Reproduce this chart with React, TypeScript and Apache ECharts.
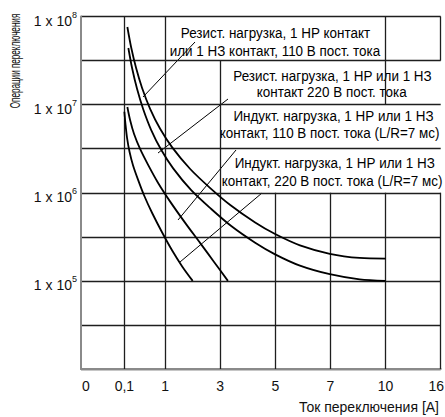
import React, { useEffect, useRef } from "react";
import * as echarts from "echarts";

// Axis definition (current in A, pseudo-scale with evenly spaced columns)
const tickAmps = [0, 0.1, 1, 3, 5, 7, 10, 16];
const tickLabels = ["0", "0,1", "1", "3", "5", "7", "10", "16"];
const tickSlots = [0, 0.787, 1.527, 2.527, 3.527, 4.527, 5.527, 6.527];
const decadeExponents = [5, 6, 7, 8];
const yMinExp = 4;
const yMaxExp = 8;

// Curves: [current A, operations]
const resist110V: [number, number][] = [
  [0.166, 7.6e7], [0.248, 4.51e7], [0.359, 2.6e7], [0.491, 1.545e7], [0.668, 8.97e6],
  [0.889, 5.32e6], [1.255, 3.27e6], [1.909, 1.86e6], [2.636, 1.13e6], [3.362, 7.26e5],
  [4.266, 4.6e5], [4.99, 3.4e5], [5.892, 2.53e5], [6.975, 2.03e5], [8.59, 1.82e5], [10, 1.79e5],
];
const resist220V: [number, number][] = [
  [0.188, 4.39e7], [0.27, 2.6e7], [0.381, 1.5e7], [0.514, 8.92e6], [0.69, 5.18e6],
  [0.912, 3.07e6], [1.291, 1.89e6], [1.945, 1.07e6], [2.673, 6.54e5], [3.398, 4.19e5],
  [4.266, 2.71e5], [4.99, 2.0e5], [5.892, 1.49e5], [6.975, 1.19e5], [8.59, 1.04e5], [10, 1.0e5],
];
const induct110V: [number, number][] = [
  [0.166, 9.4e6], [0.226, 6.69e6], [0.314, 4.64e6], [0.447, 3.14e6], [0.624, 2.07e6],
  [0.845, 1.29e6], [1.182, 7.93e5], [1.727, 4.55e5], [2.273, 2.68e5], [2.782, 1.63e5],
  [3.278, 1.0e5],
];
const induct220V: [number, number][] = [
  [0.1, 8.31e6], [0.1265, 5.87e6], [0.16, 4.18e6], [0.215, 2.9e6], [0.292, 2.04e6],
  [0.403, 1.4e6], [0.536, 9.31e5], [0.713, 5.89e5], [0.934, 3.54e5], [1.255, 2.21e5],
  [1.618, 1.46e5], [2.0, 1.0e5],
];

// Which vertical grid lines are drawn in which exponent ranges
const verticalGridSpans: [number, [number, number][]][] = [
  [0.1, [[4, 8]]],
  [1, [[4, 8]]],
  [3, [[4, 7.5]]],
  [5, [[4, 6]]],
  [7, [[4, 6]]],
  [10, [[4, 6], [7, 8]]],
  [16, [[4, 6], [7.5, 8]]],
];

const FONT = "'Liberation Sans', Arial, sans-serif";

function ampsToSlot(a: number): number {
  for (let i = 0; i < tickAmps.length - 1; i++) {
    if (a <= tickAmps[i + 1]) {
      const t = (a - tickAmps[i]) / (tickAmps[i + 1] - tickAmps[i]);
      return tickSlots[i] + t * (tickSlots[i + 1] - tickSlots[i]);
    }
  }
  return tickSlots[tickSlots.length - 1];
}

const toSeries = (pts: [number, number][]) => pts.map(([a, o]) => [ampsToSlot(a), Math.log10(o)]);

export default function App() {
  const ref = useRef<HTMLDivElement>(null);
  useEffect(() => {
    if (!ref.current) return;
    const chart = echarts.init(ref.current, null, { renderer: "svg" });
    const gridColor = "#1e1e1e";
    const segs: any[] = [];
    verticalGridSpans.forEach(([amp, spans]) => {
      spans.forEach(([y1, y2]) => {
        segs.push([{ coord: [ampsToSlot(amp), y1] }, { coord: [ampsToSlot(amp), y2] }]);
      });
    });
    const curveStyle = { color: "#000", width: 1.8 };
    const mkSeries = (name: string, pts: [number, number][], extra: any = {}) => ({
      name,
      type: "line",
      data: toSeries(pts),
      smooth: 0.3,
      showSymbol: false,
      symbol: "none",
      lineStyle: curveStyle,
      silent: true,
      z: 5,
      ...extra,
    });
    const ann = (text: string, x: number, y: number) => ({
      type: "text",
      x,
      y,
      scaleX: 0.96,
      silent: true,
      style: {
        text,
        fill: "#000",
        fontSize: 14,
        fontFamily: FONT,
        textAlign: "center",
        textVerticalAlign: "middle",
      },
    });
    const leader = (x1: number, y1: number, x2: number, y2: number) => ({
      type: "line",
      silent: true,
      shape: { x1, y1, x2, y2 },
      style: { stroke: "#000", lineWidth: 1 },
    });
    const lastIdx = tickLabels.length - 1;
    chart.setOption({
      animation: false,
      grid: {
        left: 81,
        top: 16.5,
        right: 4.3,
        bottom: 48,
        containLabel: false,
        outerBoundsMode: "none",
      },
      xAxis: {
        type: "value",
        min: 0,
        max: tickSlots[lastIdx],
        splitLine: { show: false },
        axisTick: { show: false },
        axisLine: { show: true, lineStyle: { color: "#8a8a8a", width: 2 } },
        axisLabel: {
          customValues: tickSlots,
          margin: 10,
          color: "#111",
          fontSize: 14,
          fontFamily: FONT,
          formatter: (v: number) => {
            const i = tickSlots.findIndex((s) => Math.abs(s - v) < 1e-6);
            if (i < 0) return "";
            if (i === 0) return `{z|${tickLabels[0]}}`;
            if (i === lastIdx) return `{e|${tickLabels[lastIdx]}}`;
            return tickLabels[i];
          },
          rich: {
            z: { padding: [0, 0, 0, 10], fontSize: 14, fontFamily: FONT, color: "#111" },
            e: { padding: [0, 9, 0, 0], fontSize: 14, fontFamily: FONT, color: "#111" },
          },
        },
      },
      yAxis: {
        type: "value",
        min: yMinExp,
        max: yMaxExp,
        interval: 0.5,
        axisTick: { show: false },
        axisLine: { show: true, lineStyle: { color: "#8a8a8a", width: 2 } },
        splitLine: { show: true, lineStyle: { color: gridColor, width: 1.3 } },
        axisLabel: {
          margin: 4,
          formatter: (v: number) =>
            decadeExponents.includes(v) ? `{b|1 x 10}{s|${v}}` : "",
          rich: {
            b: { fontSize: 14, fontFamily: FONT, color: "#111", padding: [8, 0, 0, 0] },
            s: { fontSize: 9, fontFamily: FONT, color: "#111", padding: [0, 0, 4, 0] },
          },
        },
      },
      series: [
        mkSeries("Резист. 110 В", resist110V, {
          markLine: {
            silent: true,
            symbol: ["none", "none"],
            label: { show: false },
            lineStyle: { type: "solid", color: gridColor, width: 1.3 },
            emphasis: { disabled: true },
            animation: false,
            data: segs,
            z: 1,
          },
        }),
        mkSeries("Резист. 220 В", resist220V),
        mkSeries("Индукт. 110 В", induct110V),
        mkSeries("Индукт. 220 В", induct220V),
      ],
      graphic: [
        {
          type: "text",
          x: 15,
          y: 61,
          rotation: Math.PI / 2,
          scaleX: 0.58,
          silent: true,
          style: {
            text: "Операции переключения",
            fill: "#111",
            fontSize: 14,
            fontFamily: FONT,
            textAlign: "center",
            textVerticalAlign: "middle",
          },
        },
        {
          type: "text",
          x: 439,
          y: 407,
          silent: true,
          style: {
            text: "Ток переключения [A]",
            fill: "#111",
            fontSize: 14,
            fontFamily: FONT,
            textAlign: "right",
            textVerticalAlign: "middle",
          },
        },
        ann("Резист. нагрузка, 1 НР контакт", 275.5, 33.3),
        ann("или 1 НЗ контакт, 110 В пост. тока", 275, 51.7),
        ann("Резист. нагрузка, 1 НР или 1 НЗ", 332.5, 76),
        ann("контакт 220 В пост. тока", 331.7, 92.7),
        ann("Индукт. нагрузка, 1 НР или 1 НЗ", 333.5, 116.7),
        ann("контакт, 110 В пост. тока (L/R=7 мс)", 329.5, 133.3),
        ann("Индукт. нагрузка, 1 НР или 1 НЗ", 334.7, 163.3),
        ann("контакт, 220 В пост. тока (L/R=7 мс)", 332, 181.7),
        leader(195, 42, 143, 97),
        leader(228, 99, 158, 153),
        leader(236, 150, 178, 220),
        leader(262, 193, 180, 262),
      ],
    });
    return () => chart.dispose();
  }, []);
  return (
    <div
      ref={ref}
      style={{ position: "fixed", left: 0, top: 0, width: 445, height: 417, background: "#fff" }}
    />
  );
}
